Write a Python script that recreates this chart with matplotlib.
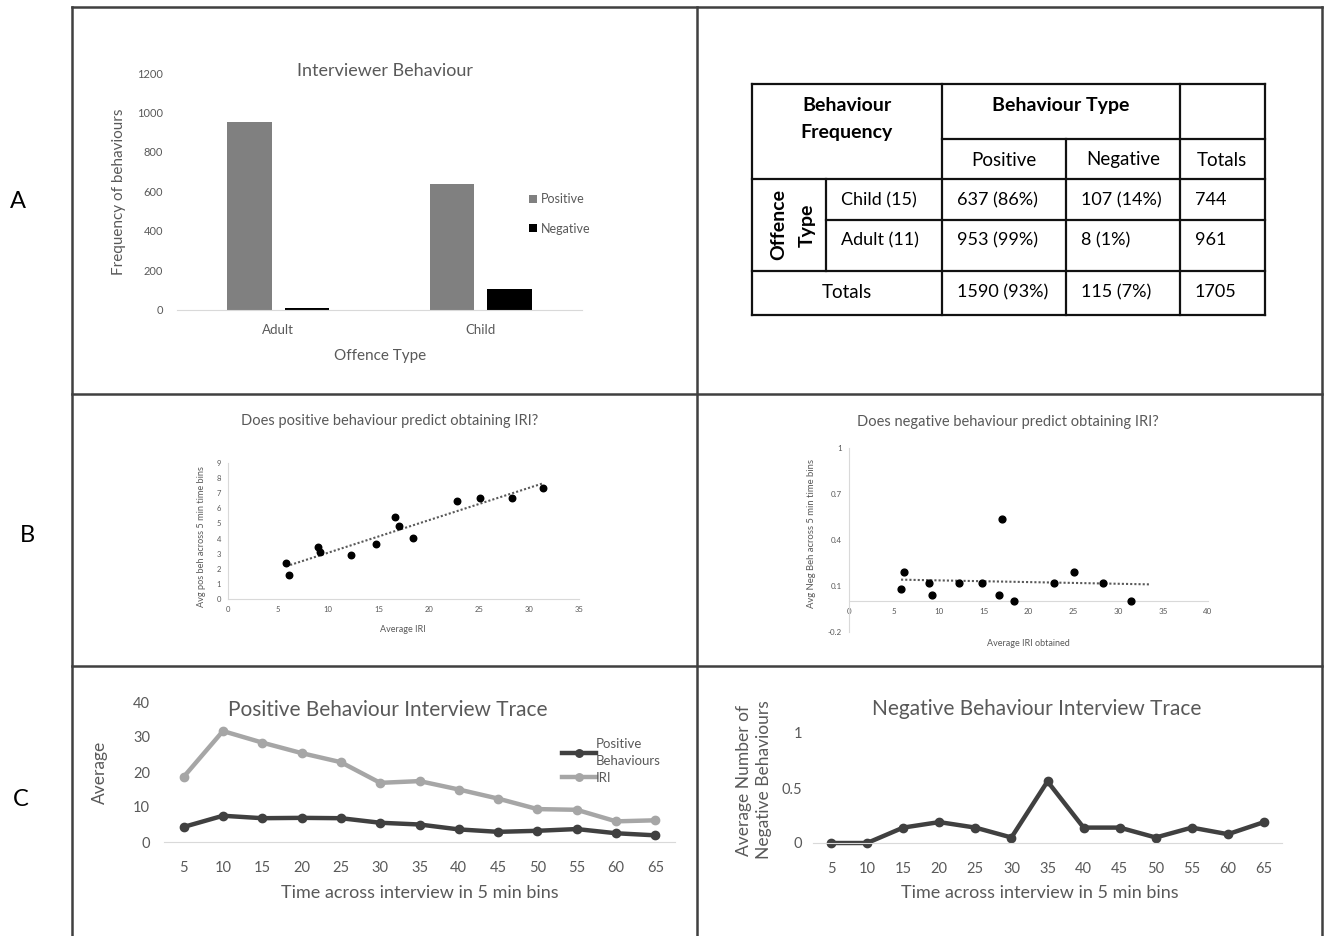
import numpy as np
import matplotlib
matplotlib.use('Agg')
import matplotlib.pyplot as plt
from matplotlib.lines import Line2D

plt.rcParams['font.family'] = ['Lato', 'DejaVu Sans']

# A - interviewer behaviour counts
offence = ['Adult', 'Child']
positive = [953, 637]
negative = [8, 107]
table_rows = ['Child (15)', 'Adult (11)']
table_pos = [637, 953]
table_neg = [107, 8]
table_cols = ['Positive', 'Negative', 'Totals']

# B - per interview averages
avg_iri = [5.8, 6.1, 8.95, 9.2, 12.3, 14.8, 16.7, 17.1, 18.4, 22.8, 25.1, 28.35, 31.45]
avg_pos = [2.37, 1.58, 3.45, 3.09, 2.9, 3.62, 5.4, 4.83, 4.06, 6.5, 6.69, 6.67, 7.35]
avg_neg = [0.08, 0.19, 0.12, 0.04, 0.12, 0.12, 0.04, 0.54, 0.0, 0.12, 0.19, 0.12, 0.0]

# C - interview traces
bins = [5, 10, 15, 20, 25, 30, 35, 40, 45, 50, 55, 60, 65]
pos_trace = [4.3, 7.5, 6.8, 6.9, 6.8, 5.5, 5.0, 3.6, 2.9, 3.2, 3.7, 2.5, 1.9]
iri_trace = [18.6, 31.7, 28.4, 25.4, 22.8, 16.9, 17.4, 15.0, 12.4, 9.4, 9.2, 5.9, 6.2]
neg_trace = [0, 0, 0.14, 0.19, 0.14, 0.05, 0.56, 0.14, 0.14, 0.05, 0.14, 0.08, 0.19]

W, H = 1324, 936
GREY = '#595959'
DARK = '#404040'
LIGHT = '#a6a6a6'
AX = '#d9d9d9'

fig = plt.figure(figsize=(W / 100, H / 100), dpi=100)


def fx(x):
    return x / W


def fy(y):
    return 1 - y / H


def box(x0, y0, x1, y1):
    return fig.add_axes([fx(x0), fy(y1), (x1 - x0) / W, (y1 - y0) / H])


def line(x0, y0, x1, y1, c=DARK, lw=1.8):
    fig.add_artist(Line2D([fx(x0), fx(x1)], [fy(y0), fy(y1)], transform=fig.transFigure,
                          color=c, lw=lw, solid_capstyle='projecting'))


def text(x, y, s, **kw):
    kw.setdefault('ha', 'center')
    kw.setdefault('va', 'center')
    fig.text(fx(x), fy(y), s, **kw)


# panel grid
line(72, 7, 1322, 7)
line(72, 7, 72, 936)
line(697, 7, 697, 936)
line(1322, 7, 1322, 936)
line(72, 394, 1322, 394)
line(72, 666, 1322, 666)
text(18, 201, 'A', fontsize=17)
text(27, 535, 'B', fontsize=17)
text(21, 800, 'C', fontsize=17)

# ---- A: bar chart
ax = box(177, 73, 582, 310)
xs = np.arange(len(offence))
ax.bar(xs - 0.142, positive, 0.22, color='#808080', label='Positive')
ax.bar(xs + 0.142, negative, 0.22, color='#000000', label='Negative')
ax.set_xlim(-0.5, 1.5)
ax.set_ylim(0, 1200)
ax.set_yticks(range(0, 1201, 200))
ax.set_xticks(xs)
ax.set_xticklabels(offence, fontsize=9.5, color=GREY)
ax.tick_params(axis='y', labelsize=8, colors=GREY, length=0, pad=10)
ax.tick_params(axis='x', length=0, pad=10)
for s in ['top', 'right', 'left']:
    ax.spines[s].set_visible(False)
ax.spines['bottom'].set_color(AX)
ax.legend(loc='upper left', bbox_to_anchor=(fx(518), fy(182)), bbox_transform=fig.transFigure,
          frameon=False, fontsize=9, handlelength=0.6, handleheight=0.6, handletextpad=0.3,
          labelspacing=1.4, labelcolor=GREY)
text(385, 71, 'Interviewer Behaviour', fontsize=13, color=GREY)
text(380, 356, 'Offence Type', fontsize=11, color=GREY)
text(119, 192, 'Frequency of behaviours', fontsize=11, color=GREY, rotation=90)

# ---- A: table
L, c1, c2, c3, c4, R = 752, 826, 942, 1066, 1180, 1265
T, r1, r2, r3, r4, B = 84, 139, 179, 220, 271, 315
for y in [T, r2, r4, B]:
    line(L, y, R, y, c='#111111', lw=1.6)
line(c2, r1, R, r1, c='#111111', lw=1.6)
line(c1, r3, R, r3, c='#111111', lw=1.6)
for x in [L, c2, c4, R]:
    line(x, T, x, B, c='#111111', lw=1.6)
line(c1, r2, c1, r4, c='#111111', lw=1.6)
line(c3, r1, c3, B, c='#111111', lw=1.6)

TF = 13
BF = 14
text(847, 119, 'Behaviour\nFrequency', fontsize=BF, fontweight='bold', linespacing=1.75)
text(1061, 105, 'Behaviour Type', fontsize=BF, fontweight='bold')
for cx, lab in zip([1004, 1123, 1222], table_cols):
    text(cx, 160, lab, fontsize=TF + 0.5)
text(793, 225, 'Offence\nType', fontsize=BF, fontweight='bold', rotation=90, linespacing=1.8)
for ry, name, p, n in zip([200, 240], table_rows, table_pos, table_neg):
    tot = p + n
    text(841, ry, name, fontsize=TF, ha='left')
    text(957, ry, f'{p} ({round(100 * p / tot)}%)', fontsize=TF, ha='left')
    text(1081, ry, f'{n} ({round(100 * n / tot)}%)', fontsize=TF, ha='left')
    text(1195, ry, f'{tot}', fontsize=TF, ha='left')
sp, sn = sum(table_pos), sum(table_neg)
text(847, 292, 'Totals', fontsize=TF + 0.5)
text(957, 292, f'{sp} ({round(100 * sp / (sp + sn))}%)', fontsize=TF, ha='left')
text(1081, 292, f'{sn} ({round(100 * sn / (sp + sn))}%)', fontsize=TF, ha='left')
text(1195, 292, f'{sp + sn}', fontsize=TF, ha='left')

# ---- B: positive scatter
ax = box(228, 463, 579, 599)
ax.scatter(avg_iri, avg_pos, s=22, color='black', zorder=3, clip_on=False)
k, b = np.polyfit(avg_iri, avg_pos, 1)
fit_x = np.array([min(avg_iri), max(avg_iri)])
ax.plot(fit_x, k * fit_x + b, ls=(0, (1, 1)), color=GREY, lw=1.5)
ax.set_xlim(0, 35)
ax.set_ylim(0, 9)
ax.set_xticks(range(0, 36, 5))
ax.set_yticks(range(0, 10))
ax.tick_params(labelsize=5.5, colors=GREY, length=0, pad=5)
for s in ['top', 'right']:
    ax.spines[s].set_visible(False)
for s in ['left', 'bottom']:
    ax.spines[s].set_color(AX)
text(390, 421, 'Does positive behaviour predict obtaining IRI?', fontsize=10.5, color=GREY)
text(403, 630, 'Average IRI', fontsize=6.5, color=GREY)
text(201, 537, 'Avg pos beh across 5 min time bins', fontsize=6.6, color=GREY, rotation=90)

# ---- B: negative scatter
ax = box(849, 448, 1208, 632)
ax.scatter(avg_iri, avg_neg, s=24, color='black', zorder=3, clip_on=False)
k, b = np.polyfit(avg_iri, avg_neg, 1)
fit_x = np.array([min(avg_iri), 33.5])
ax.plot(fit_x, k * fit_x + b, ls=(0, (1, 1)), color=GREY, lw=1.5)
ax.set_xlim(0, 40)
ax.set_ylim(-0.2, 1)
ax.set_xticks(range(0, 41, 5))
ax.set_yticks([-0.2, 0.1, 0.4, 0.7, 1])
ax.set_yticklabels(['-0.2', '0.1', '0.4', '0.7', '1'])
ax.tick_params(labelsize=5.8, colors=GREY, length=0, pad=5)
ax.spines['bottom'].set_position(('data', 0))
for s in ['top', 'right']:
    ax.spines[s].set_visible(False)
for s in ['left', 'bottom']:
    ax.spines[s].set_color(AX)
text(1008, 422, 'Does negative behaviour predict obtaining IRI?', fontsize=10.5, color=GREY)
text(1028, 644, 'Average IRI obtained', fontsize=6.5, color=GREY)
text(812, 534, 'Avg Neg Beh across 5 min time bins', fontsize=6.8, color=GREY, rotation=90)

# ---- C: positive trace
xs = np.arange(len(bins))
ax = box(164, 702, 675, 842)
ax.plot(xs, pos_trace, '-o', color=DARK, lw=3.2, ms=6, clip_on=False, label='Positive\nBehaviours')
ax.plot(xs, iri_trace, '-o', color=LIGHT, lw=3.2, ms=6, clip_on=False, label='IRI')
ax.set_xlim(-0.5, len(bins) - 0.5)
ax.set_ylim(0, 40)
ax.set_yticks(range(0, 41, 10))
ax.set_xticks(xs)
ax.set_xticklabels(bins)
ax.tick_params(labelsize=10.5, colors=GREY, length=0)
ax.tick_params(axis='x', pad=14)
ax.tick_params(axis='y', pad=10)
for s in ['top', 'right', 'left']:
    ax.spines[s].set_visible(False)
ax.spines['bottom'].set_color(AX)
leg = ax.legend(loc='upper left', bbox_to_anchor=(fx(550), fy(726)), bbox_transform=fig.transFigure,
                frameon=False, fontsize=9.5, handlelength=2.6, handletextpad=0.0, labelspacing=0.35,
                labelcolor=GREY, markerscale=0.9)
for t in leg.get_texts():
    t.set_linespacing(1.55)
text(388, 710, 'Positive Behaviour Interview Trace', fontsize=15, color=GREY)
text(420, 893, 'Time across interview in 5 min bins', fontsize=13, color=GREY)
text(100, 772, 'Average', fontsize=12.5, color=GREY, rotation=90)

# ---- C: negative trace
ax = box(813, 733, 1282, 843)
ax.plot(xs, neg_trace, '-o', color=DARK, lw=3.2, ms=6, clip_on=False)
ax.set_xlim(-0.5, len(bins) - 0.5)
ax.set_ylim(0, 1)
ax.set_yticks([0, 0.5, 1])
ax.set_yticklabels(['0', '0.5', '1'])
ax.set_xticks(xs)
ax.set_xticklabels(bins)
ax.tick_params(labelsize=10.5, colors=GREY, length=0)
ax.tick_params(axis='x', pad=14)
ax.tick_params(axis='y', pad=8)
for s in ['top', 'right', 'left']:
    ax.spines[s].set_visible(False)
ax.spines['bottom'].set_color(AX)
text(1037, 709, 'Negative Behaviour Interview Trace', fontsize=15, color=GREY)
text(1040, 893, 'Time across interview in 5 min bins', fontsize=13, color=GREY)
text(754, 780, 'Average Number of\nNegative Behaviours', fontsize=12.5, color=GREY, rotation=90,
     linespacing=1.3)

fig.savefig('out.png', dpi=100, facecolor='white')
